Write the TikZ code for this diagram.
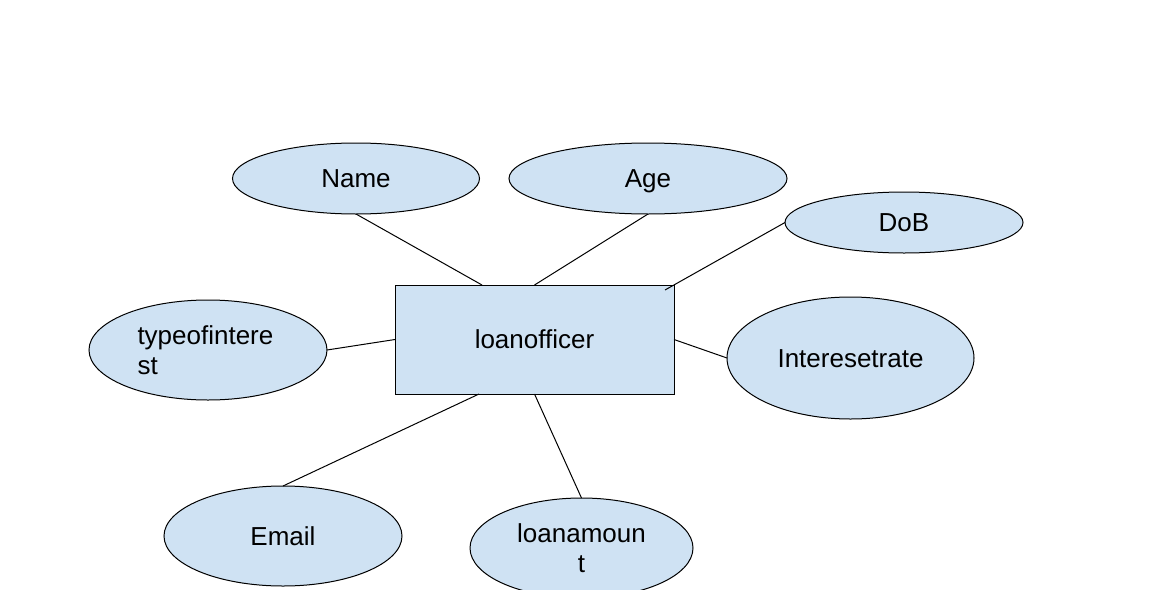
\documentclass[tikz,border=0pt]{standalone}
\usepackage{fontspec}
\setmainfont{Liberation Sans}
\usetikzlibrary{positioning, shapes.geometric, calc}
\definecolor{erblue}{HTML}{CFE2F3}

\begin{document}
\begin{tikzpicture}[x=1pt, y=-1pt,
    every node/.style={font=\fontsize{26}{30}\selectfont},
    entity/.style={draw, rectangle, fill=erblue, line width=1pt, inner sep=0pt, outer sep=0pt, minimum width=279pt, minimum height=109pt, text height=18.5pt, text depth=0pt},
    attr/.style={draw, ellipse, fill=erblue, line width=1pt, inner sep=0pt, outer sep=0pt},
    oneline/.style={text height=18.5pt, text depth=0pt}]
  \useasboundingbox (0,0) rectangle (1151,589);
  \clip (0,0) rectangle (1151,589);

  \node[entity] (officer) at (534.5,339.5) {loanofficer};

  \node[attr, oneline, minimum width=247pt, minimum height=71pt] (name) at (356,178.5) {Name};
  \node[attr, oneline, minimum width=278pt, minimum height=71pt] (age) at (648,178.5) {Age};
  \node[attr, oneline, minimum width=238pt, minimum height=61pt] (dob) at (904,222.5) {DoB};
  \node[attr, minimum width=238pt, minimum height=100pt, text width=141pt, align=left] (typeint) at (208,350) {typeofintere\\st};
  \node[attr, oneline, minimum width=247pt, minimum height=122pt] (rate) at (850.5,358) {Interesetrate};
  \node[attr, oneline, minimum width=238pt, minimum height=100pt] (email) at (283,536) {Email};
  \node[attr, minimum width=223pt, minimum height=100pt, align=center] (amount) at (581.5,548) {loanamoun\\t};

  \draw[line width=1pt] (name.south) -- ([xshift=87pt]officer.north west);
  \draw[line width=1pt] (age.south) -- (officer.north);
  \draw[line width=1pt] (dob.west) -- ([xshift=-9pt, yshift=-5pt]officer.north east);
  \draw[line width=1pt] (typeint.east) -- (officer.west);
  \draw[line width=1pt] (rate.west) -- (officer.east);
  \draw[line width=1pt] (email.north) -- ([xshift=84pt]officer.south west);
  \draw[line width=1pt] (amount.north) -- (officer.south);
\end{tikzpicture}
\end{document}
